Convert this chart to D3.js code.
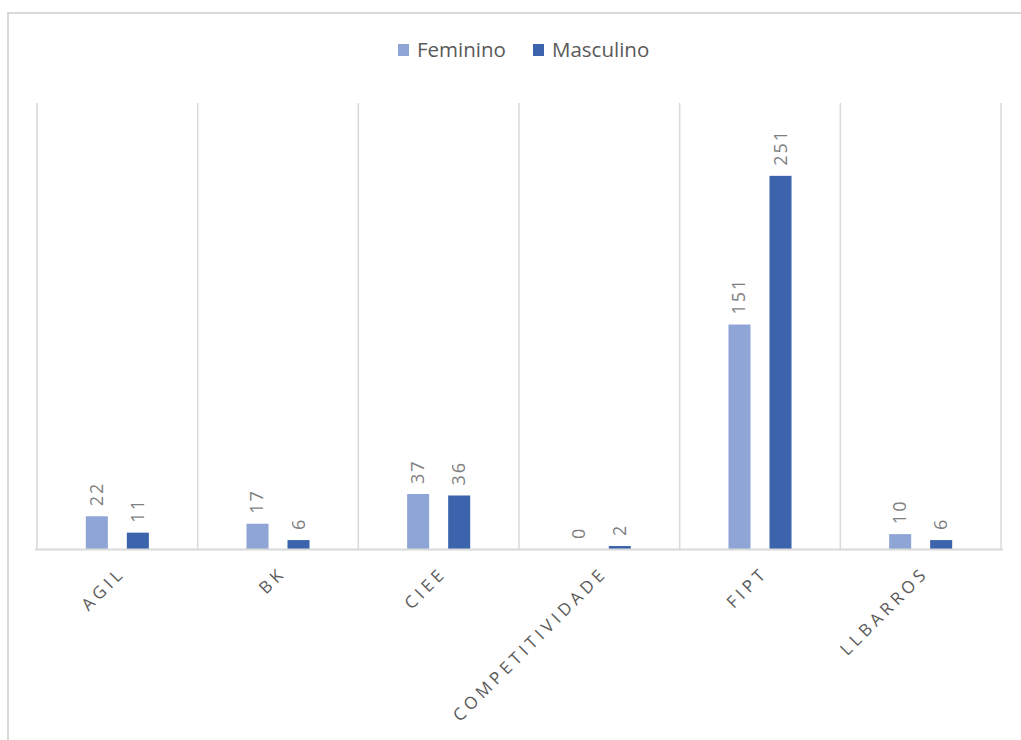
<!DOCTYPE html>
<html>
<head>
<meta charset="utf-8">
<script src="https://cdn.jsdelivr.net/npm/d3@7"></script>
<style>
  body { margin: 0; background: #fff; }
  svg { display: block; font-family: "Open Sans", "Noto Sans", sans-serif; }
</style>
</head>
<body>
<svg id="chart"></svg>
<script>
// data
var categories = ["AGIL", "BK", "CIEE", "COMPETITIVIDADE", "FIPT", "LLBARROS"];
var series = ["Feminino", "Masculino"];
var feminino = [22, 17, 37, 0, 151, 10];
var masculino = [11, 6, 36, 2, 251, 6];

var colors = { "Feminino": "#8fa5d6", "Masculino": "#3b64ad" };

//begin: layout conf.
var svgWidth = 1021,
    svgHeight = 740,
    plot = { left: 37, right: 1001, top: 103, bottom: 549 };
//end: layout conf.

var svg = d3.select("#chart")
    .attr("width", svgWidth)
    .attr("height", svgHeight);

// chart frame (cut by the window on the right and bottom)
svg.append("path")
    .attr("d", "M8,760V13H1030")
    .attr("fill", "none")
    .attr("stroke", "#d9d9d9")
    .attr("stroke-width", 2);

var x0 = d3.scaleBand()
    .domain(categories)
    .range([plot.left, plot.right]);

var x1 = d3.scaleBand()
    .domain(series)
    .range([0, x0.bandwidth()])
    .paddingInner(0.463)
    .paddingOuter(1.19);

var y = d3.scaleLinear()
    .domain([0, 300])
    .range([plot.bottom, plot.top]);

// vertical gridlines at the category boundaries
var bounds = categories.map(function(c){ return x0(c); }).concat([plot.right]);
svg.append("g")
    .selectAll("line")
    .data(bounds)
    .enter()
    .append("line")
        .attr("x1", function(d){ return d; })
        .attr("x2", function(d){ return d; })
        .attr("y1", plot.top)
        .attr("y2", plot.bottom)
        .attr("stroke", "#d9d9d9")
        .attr("stroke-width", 1.5);

var rows = categories.map(function(c, i) {
  return { cat: c, values: [
    { key: "Feminino", value: feminino[i] },
    { key: "Masculino", value: masculino[i] }
  ]};
});

var groups = svg.append("g")
    .selectAll(".group")
    .data(rows)
    .enter()
    .append("g")
        .attr("transform", function(d){ return "translate(" + x0(d.cat) + ",0)"; });

groups.selectAll("rect")
    .data(function(d){ return d.values; })
    .enter()
    .append("rect")
        .attr("x", function(d){ return x1(d.key); })
        .attr("width", x1.bandwidth())
        .attr("y", function(d){ return y(d.value); })
        .attr("height", function(d){ return y(0) - y(d.value); })
        .attr("fill", function(d){ return colors[d.key]; });

// value labels, rotated
groups.selectAll("text")
    .data(function(d){ return d.values; })
    .enter()
    .append("text")
        .attr("transform", function(d){
          return "translate(" + [x1(d.key) + x1.bandwidth()/2 + 6, y(d.value) - 10] + ") rotate(-90)";
        })
        .attr("fill", "#7f7f7f")
        .style("font-size", "18px")
        .style("letter-spacing", "2px")
        .text(function(d){ return d.value; });

// axis line
svg.append("line")
    .attr("x1", plot.left - 2)
    .attr("x2", plot.right + 2)
    .attr("y1", plot.bottom + 0.5)
    .attr("y2", plot.bottom + 0.5)
    .attr("stroke", "#d9d9d9")
    .attr("stroke-width", 2);

// category labels
svg.append("g")
    .selectAll("text")
    .data(categories)
    .enter()
    .append("text")
        .attr("transform", function(d){
          return "translate(" + [x0(d) + x0.bandwidth()/2 + 9, plot.bottom + 25] + ") rotate(-45)";
        })
        .attr("text-anchor", "end")
        .attr("fill", "#595959")
        .style("font-size", "17px")
        .style("letter-spacing", "4.2px")
        .text(function(d){ return d; });

// legend
var legend = svg.append("g")
    .attr("transform", "translate(398,44)");
var legendItems = legend.selectAll("g")
    .data(series)
    .enter()
    .append("g")
        .attr("transform", function(d, i){ return "translate(" + (i * 135) + ",0)"; });
legendItems.append("rect")
    .attr("width", 11)
    .attr("height", 12)
    .attr("fill", function(d){ return colors[d]; });
legendItems.append("text")
    .attr("x", 19)
    .attr("y", 13)
    .attr("fill", "#595959")
    .style("font-size", "20.5px")
    .text(function(d){ return d; });
</script>
</body>
</html>
